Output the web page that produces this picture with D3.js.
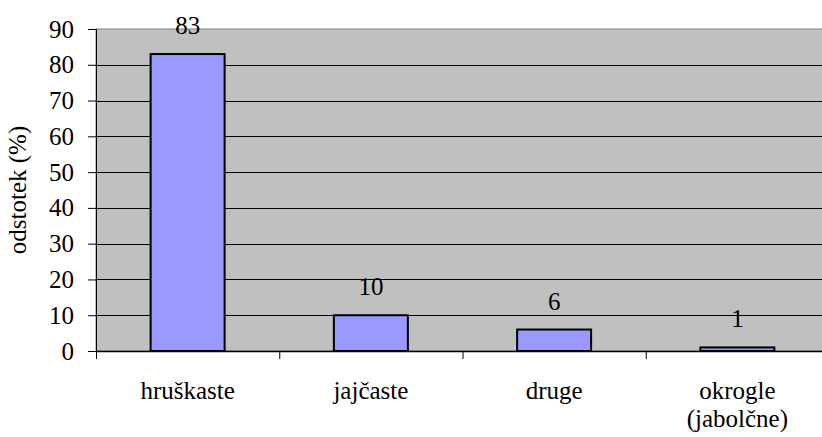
<!DOCTYPE html>
<html>
<head>
<meta charset="utf-8">
<script src="https://cdn.jsdelivr.net/npm/d3@7"></script>
<style>
  html, body { margin: 0; padding: 0; background: #fff; }
  svg { display: block; }
</style>
</head>
<body>
<svg id="chart" width="822" height="437"></svg>
<script>
// Oblika plodov – delež (%)
const categories = ["hruškaste", "jajčaste", "druge", "okrogle\n(jabolčne)"];
const values = [83, 10, 6, 1];
const yTicks = [0, 10, 20, 30, 40, 50, 60, 70, 80, 90];
const yTitle = "odstotek (%)";

const FONT = "'Liberation Serif', 'Times New Roman', serif";
const FS = 25;

const svg = d3.select("#chart")
  .attr("font-family", FONT);
const plot = { left: 96, top: 29, right: 829, bottom: 351 };

const x = d3.scaleBand()
  .domain(categories)
  .range([plot.left, plot.right])
  .paddingInner(0)
  .paddingOuter(0);

const y = d3.scaleLinear()
  .domain([0, 90])
  .range([plot.bottom, plot.top]);

// plot background
svg.append("rect")
  .attr("x", plot.left).attr("y", plot.top)
  .attr("width", plot.right - plot.left)
  .attr("height", plot.bottom - plot.top)
  .attr("fill", "#c0c0c0")
  .attr("stroke", "#808080")
  .attr("stroke-width", 1);

// horizontal gridlines
svg.append("g")
  .selectAll("line")
  .data(yTicks.filter(d => d > 0 && d < 90))
  .join("line")
  .attr("x1", plot.left).attr("x2", plot.right)
  .attr("y1", d => Math.round(y(d)) + 0.5)
  .attr("y2", d => Math.round(y(d)) + 0.5)
  .attr("stroke", "#000")
  .attr("stroke-width", 1);

// bars
const bw = 74;
svg.append("g")
  .selectAll("rect")
  .data(values)
  .join("rect")
  .attr("x", (d, i) => x(categories[i]) + x.bandwidth() / 2 - bw / 2)
  .attr("y", d => y(d))
  .attr("width", bw)
  .attr("height", d => y(0) - y(d))
  .attr("fill", "#9999ff")
  .attr("stroke", "#000")
  .attr("stroke-width", 2);

// value labels
svg.append("g")
  .selectAll("text")
  .data(values)
  .join("text")
  .attr("x", (d, i) => x(categories[i]) + x.bandwidth() / 2)
  .attr("y", d => y(d) - 20)
  .attr("text-anchor", "middle")
  .attr("font-family", FONT)
  .attr("font-size", FS)
  .attr("fill", "#000")
  .text(d => d);

// y axis
const yAxis = d3.axisLeft(y)
  .tickValues(yTicks)
  .tickSize(8)
  .tickPadding(14)
  .tickFormat(d3.format("d"));
const gy = svg.append("g")
  .attr("transform", `translate(${plot.left},0)`)
  .call(yAxis)
  .attr("font-family", FONT)
  .attr("font-size", FS);
gy.select(".domain").attr("stroke", "#000").attr("stroke-width", 1);
gy.selectAll(".tick line").attr("stroke", "#000");
gy.selectAll(".tick text")
  .attr("font-family", FONT)
  .attr("font-size", FS)
  .attr("fill", "#000");

// x axis
const xAxis = d3.axisBottom(x).tickSize(0).tickFormat("");
const gx = svg.append("g")
  .attr("transform", `translate(0,${plot.bottom})`)
  .call(xAxis);
gx.select(".domain").attr("stroke", "#000").attr("stroke-width", 1.5);

// category separator ticks
const sepX = categories.map(c => x(c));
svg.append("g")
  .selectAll("line")
  .data(sepX)
  .join("line")
  .attr("x1", d => d + 0.5).attr("x2", d => d + 0.5)
  .attr("y1", plot.bottom).attr("y2", plot.bottom + 8)
  .attr("stroke", "#000");

// category labels
const cl = svg.append("g")
  .selectAll("text")
  .data(categories)
  .join("text")
  .attr("x", d => x(d) + x.bandwidth() / 2)
  .attr("y", 399)
  .attr("text-anchor", "middle")
  .attr("font-family", FONT)
  .attr("font-size", FS)
  .attr("fill", "#000");
cl.each(function (d) {
  const lines = d.split("\n");
  const t = d3.select(this);
  lines.forEach((ln, i) => {
    t.append("tspan")
      .attr("x", t.attr("x"))
      .attr("dy", i === 0 ? 0 : 28)
      .text(ln);
  });
});

// y axis title
svg.append("text")
  .attr("transform", `translate(26,${(plot.top + plot.bottom) / 2}) rotate(-90)`)
  .attr("text-anchor", "middle")
  .attr("font-family", FONT)
  .attr("font-size", FS)
  .attr("fill", "#000")
  .text(yTitle);
</script>
</body>
</html>
